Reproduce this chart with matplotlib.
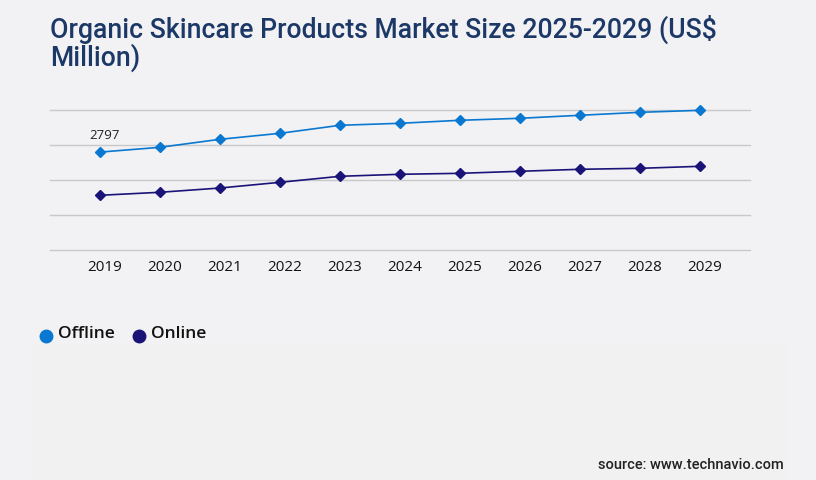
import matplotlib
matplotlib.use("Agg")
import matplotlib.pyplot as plt
import matplotlib.transforms as mtransforms
from matplotlib.patches import Rectangle
from matplotlib.lines import Line2D

# values
years = ["2019", "2020", "2021", "2022", "2023", "2024", "2025", "2026", "2027", "2028", "2029"]
offline = [2797, 2934, 3163, 3334, 3563, 3620, 3706, 3763, 3849, 3934, 3991]
online = [1563, 1649, 1771, 1934, 2106, 2163, 2191, 2249, 2306, 2334, 2391]
series_names = ["Offline", "Online"]
colors = ["#0a78d0", "#1b1478"]
title = "Organic Skincare Products Market Size 2025-2029 (US$\nMillion)"
source = "source: www.technavio.com"

W, H = 816, 480
fig = plt.figure(figsize=(W / 100, H / 100), dpi=100)
bg = "#f2f2f4"
fig.patch.set_facecolor(bg)

# slightly different lower panel
fig.patches.append(Rectangle((31 / W, 0), (789 - 31) / W, 1 - 345 / H,
                             transform=fig.transFigure, facecolor="#f1f1f2",
                             edgecolor="none", zorder=0))

ax = fig.add_axes([50 / W, 1 - 250 / H, 700 / W, 140 / H])
ax.set_facecolor("none")

x = list(range(len(years)))
ax.plot(x, offline, color=colors[0], lw=1.2, marker="D", ms=5.5, zorder=3, clip_on=False)
ax.plot(x, online, color=colors[1], lw=1.2, marker="D", ms=5.5, zorder=3, clip_on=False)

ax.annotate(str(offline[0]), (x[0], offline[0]), xytext=(3, 7), textcoords="offset points",
            ha="center", va="bottom", fontsize=9.5, color="#222222", family="Open Sans")

ax.set_xlim(-0.833, 10.833)
ax.set_ylim(0, 4000)
ax.set_yticks([0, 1000, 2000, 3000, 4000])
ax.set_yticklabels([])
ax.set_xticks(x)
ax.set_xticklabels(years, fontsize=11, family="Open Sans", color="#111111")
ax.tick_params(length=0, pad=7)
ax.tick_params(axis="y", length=0, pad=0)
ax.grid(axis="y", color="#c8c8c8", lw=1)
ax.set_axisbelow(True)
for gl in ax.get_ygridlines():
    gl.set_clip_on(False)
for s in ax.spines.values():
    s.set_visible(False)
# year labels sit a little right of their points in the reference
shift = mtransforms.ScaledTranslation(5 / 100, 0, fig.dpi_scale_trans)
for lab in ax.get_xticklabels():
    lab.set_transform(lab.get_transform() + shift)

fig.text(50 / W, 1 - 15 / H, title, ha="left", va="top", fontsize=19.2, fontweight="medium",
         family="Roboto", color="#1c3867", linespacing=0.98)

# legend
for i, (name, c) in enumerate(zip(series_names, colors)):
    xd = [46, 139][i]
    fig.add_artist(Line2D([xd / W], [1 - 336 / H], marker="o", ms=9, color=c,
                          transform=fig.transFigure))
    fig.text((xd + 12) / W, 1 - 334 / H, name, ha="left", va="center", fontsize=12.5,
             fontweight="semibold", family="Open Sans", color="#111111")

fig.text(784 / W, 1 - 465 / H, source, ha="right", va="center", fontsize=10.5,
         fontweight="medium", family="Roboto", color="#222222")

fig.savefig("out.png", dpi=100, facecolor=bg)
